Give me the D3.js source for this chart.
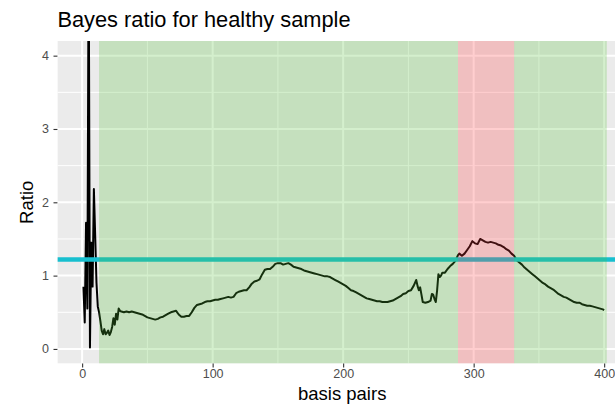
<!DOCTYPE html>
<html>
<head>
<meta charset="utf-8">
<script src="https://cdn.jsdelivr.net/npm/d3@7"></script>
<style>
  html, body { margin: 0; padding: 0; background: #fff; }
  svg { display: block; font-family: "Liberation Sans", Arial, sans-serif; }
</style>
</head>
<body>
<svg id="chart" width="615" height="405"></svg>
<script>
// Position along the sequence (basis pairs) and the Bayes ratio at that position
const positions = [
  1, 2, 3, 4, 5, 6, 7, 8, 9, 10, 11, 12, 13, 14, 15, 16, 17, 18, 19, 20,
  21, 22, 23, 24, 25, 26, 27, 28, 29, 30, 32, 34, 36, 38, 40, 42, 44, 46, 48, 50,
  52, 54, 56, 58, 60, 62, 64, 66, 68, 70, 72, 74, 76, 78, 80, 82, 84, 86, 88, 90,
  92, 94, 96, 98, 100, 102, 104, 106, 108, 110, 112, 114, 116, 118, 120, 122, 124, 126, 128, 130,
  132, 134, 136, 138, 140, 142, 144, 146, 148, 150, 152, 154, 156, 158, 160, 162, 164, 166, 168, 170,
  172, 174, 176, 178, 180, 182, 184, 186, 188, 190, 192, 194, 196, 198, 200, 202, 204, 206, 208, 210,
  212, 214, 216, 218, 220, 222, 224, 226, 228, 230, 232, 234, 236, 238, 240, 242, 244, 246, 248, 250,
  252, 254, 256, 257, 258, 259, 260, 261, 263, 265, 267, 268, 269, 270, 271, 272, 273, 274, 275, 276,
  278, 280, 282, 284, 286, 288, 289, 291, 293, 295, 297, 299, 301, 303, 305, 307, 309, 311, 313, 315,
  317, 319, 321, 323, 325, 327, 329, 331, 333, 335, 337, 339, 341, 343, 345, 347, 349, 351, 353, 355,
  357, 359, 361, 363, 365, 367, 369, 371, 373, 375, 377, 379, 381, 383, 385, 387, 389, 391, 393, 395,
  397, 399, 400
];
const ratios = [
  0.85, 0.36, 1.72, 0.55, 5.60, 0.02, 1.45, 0.85, 2.18, 1.55, 0.90, 0.58, 0.50, 0.38, 0.25, 0.20, 0.27, 0.20, 0.22, 0.25,
  0.19, 0.23, 0.30, 0.42, 0.33, 0.48, 0.40, 0.55, 0.52, 0.51, 0.50, 0.51, 0.50, 0.51, 0.50, 0.49, 0.48, 0.47, 0.45, 0.43,
  0.42, 0.41, 0.40, 0.41, 0.43, 0.44, 0.46, 0.48, 0.50, 0.51, 0.52, 0.47, 0.44, 0.44, 0.45, 0.45, 0.50, 0.56, 0.60, 0.61,
  0.62, 0.64, 0.65, 0.65, 0.66, 0.67, 0.67, 0.68, 0.69, 0.70, 0.71, 0.70, 0.71, 0.76, 0.78, 0.79, 0.80, 0.80, 0.84, 0.89,
  0.92, 0.93, 0.95, 1.02, 1.08, 1.09, 1.09, 1.12, 1.16, 1.17, 1.17, 1.15, 1.16, 1.17, 1.15, 1.12, 1.11, 1.10, 1.09, 1.07,
  1.06, 1.05, 1.04, 1.03, 1.02, 1.01, 1.00, 0.99, 0.99, 0.98, 0.96, 0.94, 0.92, 0.90, 0.88, 0.86, 0.83, 0.80, 0.79, 0.77,
  0.75, 0.73, 0.71, 0.69, 0.68, 0.67, 0.66, 0.65, 0.65, 0.64, 0.64, 0.64, 0.65, 0.66, 0.68, 0.70, 0.72, 0.75, 0.76, 0.79,
  0.80, 0.86, 0.94, 0.86, 0.80, 0.84, 0.74, 0.64, 0.63, 0.64, 0.66, 0.75, 0.74, 0.68, 0.64, 0.80, 1.02, 0.98, 1.00, 1.04,
  1.04, 1.09, 1.13, 1.16, 1.20, 1.28, 1.30, 1.27, 1.30, 1.35, 1.40, 1.47, 1.44, 1.43, 1.50, 1.48, 1.46, 1.45, 1.46, 1.45,
  1.44, 1.42, 1.41, 1.39, 1.36, 1.34, 1.30, 1.27, 1.21, 1.18, 1.15, 1.11, 1.08, 1.05, 1.02, 0.99, 0.96, 0.93, 0.90, 0.88,
  0.85, 0.83, 0.81, 0.78, 0.75, 0.73, 0.71, 0.70, 0.68, 0.66, 0.64, 0.63, 0.63, 0.61, 0.60, 0.59, 0.59, 0.58, 0.57, 0.56,
  0.55, 0.54, 0.53
];

// Shaded regions along the sequence: [start, end]
const healthyRegions = [[13, 288], [331, 402]];
const flaggedRegions = [[288, 331]];
const threshold = 1.22;

const xTicks = [0, 100, 200, 300, 400];
const xMinor = [50, 150, 250, 350];
const yTicks = [0, 1, 2, 3, 4];
const yMinor = [0.5, 1.5, 2.5, 3.5];

const svg = d3.select("#chart");

const panel = { left: 57.4, top: 41.0, right: 630.2, bottom: 363.6 };

const x = d3.scaleLinear().domain([-18.95, 419.95]).range([panel.left, panel.right]);
const y = d3.scaleLinear().domain([-0.2, 4.2]).range([panel.bottom, panel.top]);

// clip everything drawn in the panel
svg.append("defs").append("clipPath").attr("id", "panel-clip")
  .append("rect")
  .attr("x", panel.left).attr("y", panel.top)
  .attr("width", panel.right - panel.left).attr("height", panel.bottom - panel.top);

const g = svg.append("g").attr("clip-path", "url(#panel-clip)");

// panel background
g.append("rect")
  .attr("x", panel.left).attr("y", panel.top)
  .attr("width", panel.right - panel.left).attr("height", panel.bottom - panel.top)
  .attr("fill", "#ebebeb");

// grid lines
g.selectAll(".ymin").data(yMinor).join("line")
  .attr("x1", panel.left).attr("x2", panel.right)
  .attr("y1", d => y(d)).attr("y2", d => y(d))
  .attr("stroke", "#fff").attr("stroke-width", 1);
g.selectAll(".xmin").data(xMinor).join("line")
  .attr("y1", panel.top).attr("y2", panel.bottom)
  .attr("x1", d => x(d)).attr("x2", d => x(d))
  .attr("stroke", "#fff").attr("stroke-width", 1);
g.selectAll(".ymaj").data(yTicks).join("line")
  .attr("x1", panel.left).attr("x2", panel.right)
  .attr("y1", d => y(d)).attr("y2", d => y(d))
  .attr("stroke", "#fff").attr("stroke-width", 2);
g.selectAll(".xmaj").data(xTicks).join("line")
  .attr("y1", panel.top).attr("y2", panel.bottom)
  .attr("x1", d => x(d)).attr("x2", d => x(d))
  .attr("stroke", "#fff").attr("stroke-width", 2);

// ratio trace
const series = positions.map((p, i) => [p, ratios[i]]);
g.append("path")
  .datum(series)
  .attr("fill", "none")
  .attr("stroke", "#000")
  .attr("stroke-width", 2)
  .attr("stroke-linejoin", "round")
  .attr("d", d3.line().x(d => x(d[0])).y(d => y(d[1])));

// threshold line
g.append("line")
  .attr("x1", panel.left).attr("x2", panel.right)
  .attr("y1", y(threshold)).attr("y2", y(threshold))
  .attr("stroke", "#17bfcf").attr("stroke-width", 4.3);

// translucent shaded regions on top
g.selectAll(".healthy").data(healthyRegions).join("rect")
  .attr("x", d => x(d[0])).attr("width", d => x(d[1]) - x(d[0]))
  .attr("y", panel.top).attr("height", panel.bottom - panel.top)
  .attr("fill", "rgb(83,191,55)").attr("fill-opacity", 0.25);
g.selectAll(".flagged").data(flaggedRegions).join("rect")
  .attr("x", d => x(d[0])).attr("width", d => x(d[1]) - x(d[0]))
  .attr("y", panel.top).attr("height", panel.bottom - panel.top)
  .attr("fill", "rgb(255,60,62)").attr("fill-opacity", 0.25);

// axes
const yAxis = d3.axisLeft(y).tickValues(yTicks).tickSize(3.9).tickPadding(4.5).tickFormat(d3.format("d"));
const xAxis = d3.axisBottom(x).tickValues(xTicks).tickSize(3.9).tickPadding(2).tickFormat(d3.format("d"));

const ya = svg.append("g").attr("transform", `translate(${panel.left},0)`).call(yAxis);
const xa = svg.append("g").attr("transform", `translate(0,${panel.bottom})`).call(xAxis);
[ya, xa].forEach(a => {
  a.select(".domain").remove();
  a.selectAll(".tick line").attr("stroke", "#333").attr("stroke-width", 1.1);
  a.selectAll(".tick text")
    .attr("fill", "#4d4d4d")
    .style("font-size", "12.5px")
    .style("font-family", "'Liberation Sans', Arial, sans-serif");
});

// axis titles
svg.append("text")
  .attr("x", (panel.left + 627) / 2).attr("y", 399.5)
  .attr("text-anchor", "middle")
  .style("font-size", "18.5px")
  .attr("fill", "#000")
  .text("basis pairs");

svg.append("text")
  .attr("transform", `translate(32.5,${(panel.top + panel.bottom) / 2}) rotate(-90)`)
  .attr("text-anchor", "middle")
  .style("font-size", "18.5px")
  .attr("fill", "#000")
  .text("Ratio");

// title
svg.append("text")
  .attr("x", panel.left).attr("y", 26.5)
  .style("font-size", "21.8px")
  .attr("fill", "#000")
  .text("Bayes ratio for healthy sample");
</script>
</body>
</html>
